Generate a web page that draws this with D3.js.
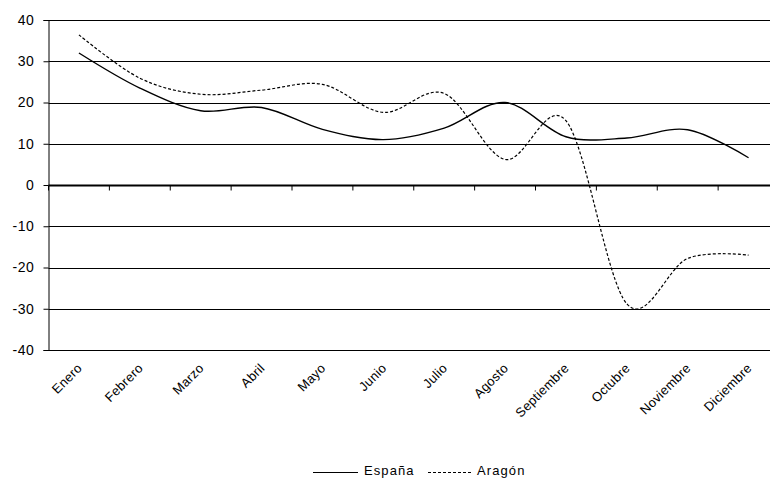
<!DOCTYPE html>
<html><head><meta charset="utf-8">
<script src="https://cdn.jsdelivr.net/npm/d3@7"></script>
<style>body{margin:0;background:#fff;}svg{display:block;font-family:"Liberation Sans",Arial,sans-serif;}</style>
</head><body>
<svg id="c" width="770" height="478"></svg>
<script>
const months = ["Enero","Febrero","Marzo","Abril","Mayo","Junio","Julio","Agosto","Septiembre","Octubre","Noviembre","Diciembre"];
const espana = [32, 23.5, 18, 18.8, 13.5, 11, 13.8, 20, 11.7, 11.4, 13.4, 6.6];
const aragon = [36.4, 25.9, 22, 23, 24.4, 17.6, 22.2, 6.2, 15.6, -28.8, -17.8, -17];
const yTicks = [40, 30, 20, 10, 0, -10, -20, -30, -40];
const seriesNames = ["España", "Aragón"];

const svg = d3.select("#c");
const L = 48.5, R = 779, T = 20, B = 350;
const x = d3.scaleBand().domain(months).range([L, R]);
const y = d3.scaleLinear().domain([-40, 40]).range([B, T]);

// gridlines
svg.append("g").selectAll("line").data(yTicks.filter(d => d !== 0)).join("line")
  .attr("x1", L).attr("x2", 770).attr("y1", d => Math.round(y(d)) + 0.5).attr("y2", d => Math.round(y(d)) + 0.5)
  .attr("stroke", "#000").attr("stroke-width", 1);

// y axis
const ya = svg.append("g").attr("transform", `translate(${L},0)`)
  .call(d3.axisLeft(y).tickValues(yTicks).tickSize(5).tickPadding(9).tickFormat(d => String(d)));
ya.select(".domain").attr("stroke", "#000");
ya.selectAll("line").attr("stroke", "#000");
ya.selectAll("text").attr("font-size", 14).attr("fill", "#000")
  .attr("font-family", "Liberation Sans, Arial, sans-serif").attr("letter-spacing", 0.6);

// zero axis with ticks between categories
const zy = Math.round(y(0)) + 0.5;
svg.append("line").attr("x1", L).attr("x2", 770).attr("y1", zy).attr("y2", zy).attr("stroke", "#000").attr("stroke-width", 2);
const tickPos = months.map(m => x(m)).concat([R]);
svg.append("g").selectAll("line").data(tickPos).join("line")
  .attr("x1", d => d).attr("x2", d => d).attr("y1", zy).attr("y2", zy + 5)
  .attr("stroke", "#000").attr("stroke-width", 1);

// x labels
svg.append("g").selectAll("text").data(months).join("text")
  .attr("transform", d => `translate(${x(d) + x.bandwidth()/2 + 4},${369}) rotate(-45)`)
  .attr("text-anchor", "end").attr("font-size", 13).attr("letter-spacing", 0.3).attr("fill", "#000").text(d => d);

// lines
const line = d3.line().x((d, i) => x(months[i]) + x.bandwidth()/2).y(d => y(d)).curve(d3.curveCatmullRom.alpha(0));
svg.append("path").datum(espana).attr("d", line).attr("fill", "none").attr("stroke", "#000").attr("stroke-width", 1.4);
svg.append("path").datum(aragon).attr("d", line).attr("fill", "none").attr("stroke", "#000").attr("stroke-width", 1.2).attr("stroke-dasharray", "3,2");

// legend
const lg = svg.append("g");
lg.append("line").attr("x1", 313).attr("x2", 358).attr("y1", 472.5).attr("y2", 472.5).attr("stroke", "#000").attr("stroke-width", 1.2);
lg.append("text").attr("x", 364).attr("y", 475).attr("font-size", 13).attr("letter-spacing", 1.1).text(seriesNames[0]);
lg.append("line").attr("x1", 428).attr("x2", 471).attr("y1", 472.5).attr("y2", 472.5).attr("stroke", "#000").attr("stroke-width", 1.2).attr("stroke-dasharray", "3,2");
lg.append("text").attr("x", 477).attr("y", 475).attr("font-size", 13).attr("letter-spacing", 1.1).text(seriesNames[1]);
</script>
</body></html>
